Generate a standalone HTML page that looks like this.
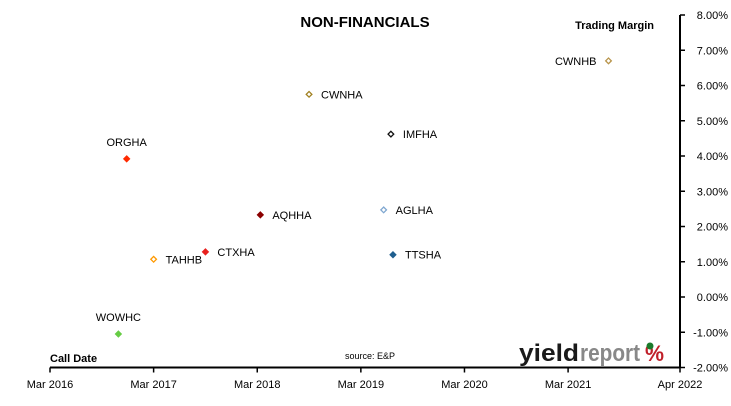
<!DOCTYPE html>
<html><head><meta charset="utf-8"><style>
body{margin:0;background:#fff;font-family:"Liberation Sans",sans-serif}
svg text{font-family:"Liberation Sans",sans-serif}
</style></head><body>
<svg width="731" height="401" xmlns="http://www.w3.org/2000/svg">
<g id="g"></g>
</svg>
<script>
const names=["ORGHA","WOWHC","TAHHB","CTXHA","AQHHA","CWNHA","IMFHA","AGLHA","TTSHA","CWNHB"];
const dates=[2016.91,2016.83,2017.17,2017.67,2018.20,2018.67,2019.46,2019.39,2019.48,2021.56];
const margins=[3.92,-1.05,1.07,1.28,2.33,5.75,4.62,2.47,1.20,6.70];
const colors=["#ff2a00","#66cc44","#ff9900","#e8201e","#8b0000","#a08020","#111111","#7fa7d0","#1f5f8f","#b8944a"];
const hollow=[false,false,true,false,false,true,true,true,false,true];
const yTicks=[8,7,6,5,4,3,2,1,0,-1,-2];
const xTickDates=[2016.17,2017.17,2018.17,2019.17,2020.17,2021.17,2022.25];
const xTickLabels=["Mar 2016","Mar 2017","Mar 2018","Mar 2019","Mar 2020","Mar 2021","Apr 2022"];
const NS="http://www.w3.org/2000/svg",g=document.getElementById('g');
const x=d=>50+(d-2016.17)/(2022.25-2016.17)*630;
const y=v=>297-v*35.25;
function el(t,a,txt){const e=document.createElementNS(NS,t);for(const k in a)e.setAttribute(k,a[k]);if(txt!==undefined)e.textContent=txt;g.appendChild(e);return e;}
let e;
e=el('line',{x1:680,y1:y(8),x2:680,y2:y(-2),stroke:'#000','stroke-width':2});

e=el('line',{x1:50,y1:y(-2),x2:680,y2:y(-2),stroke:'#000','stroke-width':2});

yTicks.forEach(v=>{
 e=el('line',{x1:680,y1:y(v),x2:685,y2:y(v),stroke:'#000','stroke-width':1.5});
 
 e=el('text',{x:728,y:y(v)+4,'text-anchor':'end','font-size':11},v.toFixed(2)+'%');
 
});
xTickDates.forEach((d,i)=>{
 e=el('line',{x1:x(d),y1:y(-2),x2:x(d),y2:y(-2)+5,stroke:'#000','stroke-width':1.5});
 
 e=el('text',{x:x(d),y:388,'text-anchor':'middle','font-size':11},xTickLabels[i]);
 
});
names.forEach((n,i)=>{
 const cx=x(dates[i]),cy=y(margins[i]);
 e=el('rect',{x:cx-2,y:cy-2,width:4,height:4,transform:`rotate(45 ${cx} ${cy})`,fill:hollow[i]?'#fff':colors[i],stroke:colors[i],'stroke-width':1.3});
 
 let lx=cx+12,ly=cy+4,anc='start';
 if(n==="ORGHA"||n==="WOWHC"){lx=cx;ly=cy-13;anc='middle';}
 if(n==="CWNHB"){lx=cx-12;anc='end';}
 e=el('text',{x:lx,y:ly,'text-anchor':anc,'font-size':11},n);
 
});
e=el('text',{x:365,y:27,'text-anchor':'middle','font-size':15,'font-weight':'bold'},'NON-FINANCIALS');

e=el('text',{x:654,y:29,'text-anchor':'end','font-size':11,'font-weight':'bold'},'Trading Margin');

e=el('text',{x:50,y:362,'font-size':11,'font-weight':'bold'},'Call Date');

e=el('text',{x:370,y:359,'text-anchor':'middle','font-size':9},'source: E&P');

e=el('text',{x:519,y:361,'font-size':24,'font-weight':'bold','fill':'#1a1a1a',textLength:60,lengthAdjust:'spacingAndGlyphs'},'yield');

e=el('text',{x:580,y:361,'font-size':24,'font-weight':'bold','fill':'#888',textLength:60,lengthAdjust:'spacingAndGlyphs'},'report');

e=el('text',{x:645,y:361,'font-size':22,'font-weight':'bold','fill':'#c0202a',textLength:19,lengthAdjust:'spacingAndGlyphs'},'%');

e=el('circle',{cx:650,cy:346,r:3.5,fill:'#1a7a2a'});

</script>
</body></html>
